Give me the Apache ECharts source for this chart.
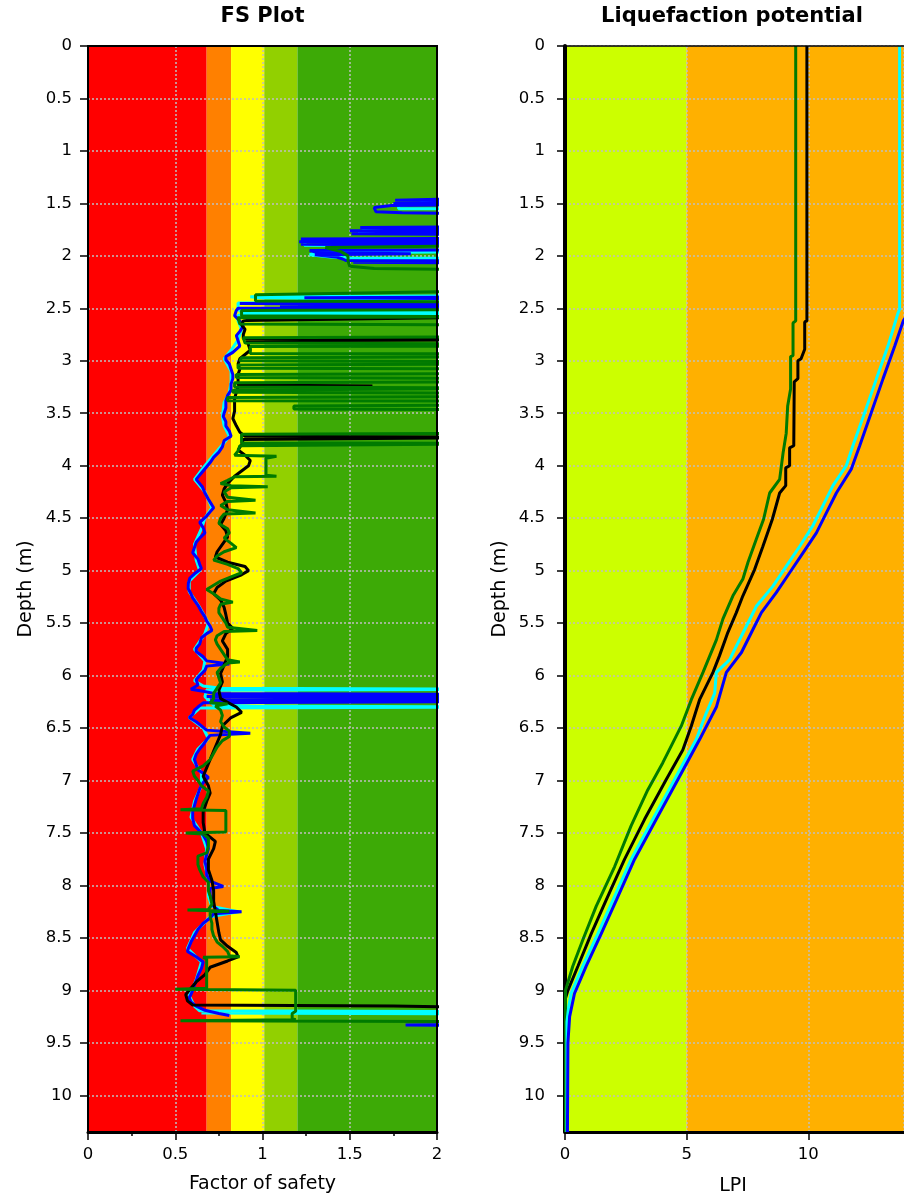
<!DOCTYPE html>
<html><head><meta charset="utf-8">
<script src="https://cdn.jsdelivr.net/npm/echarts/dist/echarts.min.js"></script>
<style>html,body{margin:0;padding:0;background:#fff}#c{width:904px;height:1199px}</style>
</head><body><div id="c"></div>
<script>
// ---------------- DATA ----------------
const depthMax = 10.35;
const lpiMax = 13.93;
const fsBandEdges = [0, 0.68, 0.82, 1.01, 1.2, 2];
const lpiBandEdges = [0, 5, 13.93];
const fsTitle = 'FS Plot';
const lpiTitle = 'Liquefaction potential';
const depthName = 'Depth (m)';
const fsName = 'Factor of safety';
const lpiName = 'LPI';

// [depth, factor of safety]; 2.5 = off scale (beyond 2), null = no value
const fsBlue = [
[1.44,2.5],[1.47,1.76],[1.48,2.5],[1.50,1.75],[1.51,2.5],[1.52,1.74],[1.54,1.64],[1.58,1.65],[1.59,1.80],[1.60,2.5],
[1.72,2.5],[1.73,1.56],[1.745,2.5],[1.76,1.50],[1.775,2.5],[1.79,1.51],[1.80,2.5],
[1.83,2.5],[1.84,1.22],[1.855,2.5],[1.865,1.21],[1.88,2.5],[1.89,1.22],[1.905,2.5],
[1.94,2.5],[1.95,1.27],[1.97,1.32],[1.98,1.85],[1.99,1.30],[2.01,1.42],[2.03,1.46],[2.045,1.48],[2.05,2.5],[2.06,1.52],[2.07,2.5],
[2.39,2.5],[2.40,1.24],[2.41,2.5],[2.45,2.5],[2.455,0.87],[2.47,2.5],[2.48,1.10],[2.49,2.5],[2.50,0.86],
[2.52,0.85],[2.57,0.84],[2.62,0.87],[2.67,0.89],[2.72,0.87],[2.76,0.85],[2.81,0.86],[2.86,0.87],[2.92,0.83],[2.96,0.79],[2.99,0.79],[3.03,0.81],[3.08,0.82],[3.13,0.83],[3.17,0.83],[3.22,0.82],[3.28,0.82],[3.33,0.80],[3.38,0.79],[3.45,0.79],[3.50,0.78],[3.53,0.775],[3.58,0.79],[3.62,0.79],[3.67,0.81],[3.72,0.82],[3.76,0.78],[3.82,0.77],[3.87,0.75],[3.92,0.72],[3.97,0.70],[4.01,0.68],[4.07,0.65],[4.13,0.62],
[4.20,0.655],[4.26,0.67],[4.32,0.69],[4.40,0.72],[4.44,0.70],[4.48,0.68],[4.54,0.64],[4.59,0.66],[4.64,0.67],[4.69,0.64],[4.73,0.62],[4.78,0.61],[4.83,0.60],[4.89,0.63],[4.94,0.64],[4.98,0.65],[5.03,0.61],[5.07,0.584],[5.12,0.575],[5.17,0.574],[5.22,0.59],[5.26,0.60],[5.33,0.63],[5.39,0.65],[5.44,0.67],[5.48,0.68],[5.53,0.70],[5.57,0.71],[5.60,0.68],[5.64,0.65],[5.70,0.64],[5.74,0.62],[5.77,0.62],[5.82,0.66],[5.86,0.68],[5.89,0.81],[5.91,0.68],[5.95,0.67],[6.00,0.64],[6.04,0.62],[6.09,0.63],[6.13,0.59],[6.15,0.66],[6.17,0.72],[6.18,2.5],[6.20,0.68],[6.21,2.5],[6.23,0.70],[6.245,2.5],[6.26,0.66],[6.30,0.63],[6.33,0.61],[6.37,0.60],[6.40,0.58],[6.44,0.62],[6.48,0.65],[6.52,0.68],[6.55,0.93],[6.57,0.70],[6.61,0.68],[6.66,0.66],[6.70,0.64],[6.75,0.62],[6.80,0.61],[6.85,0.62],[6.90,0.63],[6.93,0.66],[6.97,0.69],
[7.02,0.66],[7.08,0.64],[7.13,0.63],[7.18,0.62],[7.24,0.61],[7.30,0.60],[7.36,0.60],[7.43,0.61],[7.48,0.64],[7.52,0.66],[7.58,0.68],[7.65,0.69],[7.71,0.68],[7.77,0.67],[7.84,0.68],[7.90,0.68],[7.96,0.70],[8.01,0.775],[8.03,0.70],[8.09,0.70],[8.14,0.71],[8.20,0.72],[8.24,0.75],[8.25,0.88],[8.27,0.72],[8.31,0.70],[8.36,0.66],[8.42,0.63],[8.48,0.61],[8.54,0.59],[8.60,0.575],[8.63,0.57],[8.68,0.62],[8.73,0.66],[8.79,0.65],[8.86,0.63],[8.91,0.62],[8.95,0.61],[9.00,0.60],[9.04,0.59],[9.07,0.58],[9.11,0.59],[9.15,0.62],[9.19,0.67],[9.22,0.75],[9.24,0.81],
null,[9.32,2.5],[9.33,1.82],[9.34,2.5]
];

const fsCyan = [
[1.45,2.5],[1.47,1.95],[1.50,1.90],[1.52,1.78],[1.55,1.78],[1.555,2.5],
[1.73,2.5],[1.74,1.60],[1.78,1.55],[1.79,2.5],
[1.84,2.5],[1.85,1.25],[1.90,1.24],[1.905,2.5],
[1.96,2.5],[1.97,1.30],[1.99,1.27],[2.01,1.39],[2.02,1.50],[2.025,2.5],[2.03,1.55],[2.035,2.5],
[2.38,2.5],[2.39,0.93],[2.40,0.98],[2.405,1.24],[2.41,2.5],
[2.44,2.5],[2.45,0.86],[2.50,0.86],[2.525,0.87],[2.535,2.5],[2.545,0.87],[2.555,2.5],[2.565,0.86],
[2.62,0.86],[2.70,0.88],[2.80,0.86],[2.90,0.82],[2.98,0.78],[3.10,0.82],[3.20,0.82],[3.30,0.81],[3.40,0.78],[3.53,0.77],[3.62,0.78],[3.72,0.81],[3.80,0.77],[3.90,0.72],[4.00,0.67],[4.13,0.61],[4.25,0.67],[4.40,0.71],[4.50,0.67],[4.60,0.65],[4.75,0.61],[4.90,0.62],[5.00,0.64],[5.10,0.58],[5.20,0.58],[5.35,0.64],[5.50,0.69],[5.60,0.67],[5.75,0.61],[5.86,0.67],[5.95,0.66],[6.05,0.61],[6.10,0.66],[6.12,0.76],[6.13,2.5],[6.14,0.68],[6.20,0.67],[6.28,0.72],[6.29,0.93],[6.30,2.5],[6.31,0.64],[6.40,0.58],[6.50,0.66],[6.60,0.69],[6.70,0.63],[6.80,0.60],[6.93,0.65],[7.05,0.65],[7.20,0.61],[7.35,0.59],[7.50,0.65],[7.65,0.68],[7.80,0.67],[7.95,0.69],[8.10,0.69],[8.20,0.71],[8.25,0.86],[8.30,0.70],[8.45,0.61],[8.60,0.57],[8.73,0.65],[8.90,0.62],[9.05,0.58],[9.15,0.61],[9.195,0.64],[9.205,2.5],[9.215,0.65],[9.225,2.5]
];

const fsBlack = [
[2.58,2.5],[2.615,0.91],[2.62,0.89],[2.66,0.88],[2.70,0.90],[2.75,0.89],[2.79,0.89],[2.80,2.5],[2.81,0.91],[2.85,0.92],[2.90,0.93],[2.94,0.90],[2.98,0.87],[3.03,0.86],[3.08,0.87],[3.13,0.86],[3.18,0.86],[3.23,0.86],[3.24,1.63],[3.25,0.86],[3.30,0.85],[3.36,0.84],[3.42,0.84],[3.48,0.84],[3.55,0.83],[3.62,0.85],[3.68,0.87],[3.72,0.90],[3.73,2.5],[3.75,0.89],[3.80,0.88],[3.85,0.86],[3.90,0.90],[3.95,0.93],[4.00,0.92],[4.05,0.88],[4.10,0.84],[4.17,0.80],[4.22,0.78],[4.28,0.77],[4.35,0.79],[4.42,0.80],[4.50,0.78],[4.56,0.76],[4.62,0.79],[4.68,0.80],[4.75,0.77],[4.82,0.74],[4.87,0.73],[4.92,0.80],[4.96,0.90],[5.00,0.92],[5.04,0.88],[5.10,0.79],[5.16,0.74],[5.22,0.72],[5.28,0.76],[5.35,0.78],[5.42,0.79],[5.50,0.80],[5.55,0.83],[5.60,0.79],[5.67,0.77],[5.75,0.80],[5.82,0.80],[5.90,0.78],[5.98,0.76],[6.06,0.77],[6.14,0.75],[6.22,0.76],[6.30,0.85],[6.35,0.88],[6.40,0.82],[6.48,0.77],[6.56,0.76],[6.64,0.74],[6.72,0.72],[6.80,0.70],[6.88,0.68],[6.96,0.66],[7.05,0.69],[7.12,0.70],[7.20,0.68],[7.30,0.66],[7.40,0.66],[7.50,0.67],[7.58,0.73],[7.65,0.72],[7.75,0.69],[7.85,0.69],[7.95,0.71],[8.05,0.72],[8.15,0.72],[8.25,0.73],[8.35,0.74],[8.45,0.75],[8.52,0.76],[8.58,0.80],[8.64,0.85],[8.68,0.86],[8.72,0.80],[8.78,0.70],[8.85,0.67],[8.92,0.62],[8.98,0.59],[9.04,0.56],[9.10,0.57],[9.14,0.60],[9.15,1.75],[9.16,1.75],[9.17,2.5]
];

const fsGreen = [
[1.90,2.5],[1.92,1.36],[1.96,1.45],[2.00,1.49],[2.05,1.49],[2.10,1.50],[2.12,1.64],[2.14,2.5],
[2.33,2.5],[2.37,0.96],[2.43,0.96],[2.44,2.5],
[2.51,2.5],[2.52,0.88],[2.57,0.88],[2.58,2.5],
[2.585,2.5],[2.59,0.86],[2.65,0.87],[2.66,2.5],
[2.77,2.5],[2.78,0.89],[2.83,0.90],[2.84,2.5],
[2.86,2.5],[2.865,0.93],[2.93,0.93],[2.935,2.5],
[2.96,2.5],[2.97,0.88],[3.00,0.87],[3.01,2.5],
[3.03,2.5],[3.04,0.86],[3.07,0.86],[3.08,2.5],
[3.12,2.5],[3.13,0.85],[3.16,0.85],[3.17,2.5],
[3.20,2.5],[3.21,0.84],[3.25,0.84],[3.26,2.5],
[3.27,2.5],[3.28,0.83],[3.30,0.83],[3.31,2.5],
[3.34,2.5],[3.35,0.80],[3.38,0.80],[3.385,2.5],
[3.42,2.5],[3.43,1.18],[3.46,1.18],[3.465,2.5],
[3.69,2.5],[3.70,0.88],[3.78,0.88],[3.79,2.5],
[3.80,2.5],[3.81,0.87],[3.86,0.86],[3.90,0.84],[3.91,1.08],[3.93,1.02],[4.09,1.02],[4.10,1.08],[4.105,0.84],
[4.14,0.80],[4.17,0.76],[4.19,0.82],[4.20,1.03],[4.21,0.82],[4.25,0.78],[4.30,0.80],[4.33,0.96],[4.34,0.80],[4.38,0.76],[4.42,0.80],[4.45,0.96],[4.46,0.78],[4.50,0.76],[4.55,0.75],[4.60,0.80],[4.64,0.81],[4.69,0.78],[4.74,0.82],[4.78,0.85],[4.82,0.78],[4.86,0.74],[4.90,0.72],[4.94,0.80],[4.98,0.86],[5.02,0.88],[5.06,0.82],[5.10,0.76],[5.14,0.72],[5.18,0.68],[5.22,0.72],[5.27,0.76],[5.30,0.83],[5.32,0.76],[5.36,0.75],[5.40,0.75],[5.45,0.77],[5.50,0.79],[5.54,0.80],[5.57,0.97],[5.58,0.78],[5.62,0.74],[5.66,0.73],[5.70,0.74],[5.75,0.76],[5.80,0.78],[5.85,0.80],[5.87,0.87],[5.88,0.80],[5.93,0.76],[5.97,0.74],[6.02,0.75],[6.07,0.76],[6.12,0.74],[6.17,0.72],[6.22,0.72],[6.26,0.70],[6.27,0.80],[6.29,0.73],[6.33,0.76],[6.38,0.77],[6.44,0.76],[6.49,0.78],[6.53,0.81],[6.58,0.81],[6.62,0.77],[6.68,0.74],[6.74,0.72],[6.80,0.70],[6.86,0.66],[6.91,0.60],[6.96,0.61],
[7.00,0.63],[7.05,0.65],[7.10,0.69],[7.16,0.68],[7.22,0.66],[7.27,0.65],[7.28,0.53],[7.285,0.79],[7.49,0.79],[7.50,0.56],[7.51,0.66],[7.55,0.69],[7.62,0.69],[7.69,0.68],[7.72,0.63],[7.80,0.63],[7.85,0.64],[7.92,0.66],[7.97,0.69],[8.05,0.69],[8.10,0.70],[8.18,0.71],[8.23,0.69],[8.235,0.57],[8.245,0.81],[8.25,0.70],[8.30,0.70],[8.36,0.71],[8.42,0.71],[8.48,0.72],[8.54,0.74],[8.58,0.77],[8.63,0.80],[8.67,0.81],[8.68,0.87],[8.685,0.66],[8.70,0.68],[8.78,0.68],[8.86,0.68],[8.94,0.68],[8.98,0.68],[8.99,0.50],[9.00,1.19],[9.20,1.19],[9.22,1.17],[9.27,1.17],[9.28,1.19],[9.29,0.53],[9.30,2.5]
];

// [depth, LPI]
const lpiBlue = [
[0,14.1],[2.55,14.1],[2.62,13.9],[2.86,13.55],[3.17,13.07],[3.49,12.59],[3.81,12.11],[4.03,11.77],[4.26,11.15],[4.45,10.74],[4.64,10.33],[4.83,9.78],[5.02,9.23],[5.21,8.68],[5.40,8.07],[5.59,7.66],[5.78,7.25],[5.97,6.63],[6.30,6.22],[6.61,5.53],[6.99,4.64],[7.37,3.75],[7.75,2.86],[8.14,2.11],[8.46,1.49],[8.77,0.87],[9.03,0.39],[9.25,0.19],[9.50,0.12],[10.35,0.10]
];
const lpiCyan = [
[0,13.75],[2.51,13.75],[2.54,13.69],[2.86,13.27],[3.17,12.80],[3.49,12.32],[3.81,11.83],[4.00,11.56],[4.19,11.01],[4.38,10.60],[4.57,10.19],[4.77,9.64],[4.96,9.09],[5.15,8.54],[5.34,7.86],[5.53,7.45],[5.72,7.04],[5.85,6.76],[5.97,6.22],[6.17,6.15],[6.36,5.80],[6.61,5.39],[6.99,4.50],[7.37,3.61],[7.75,2.72],[8.14,1.97],[8.46,1.35],[8.77,0.73],[9.03,0.25],[9.16,0.15],[9.30,0.08],[10.35,0.08]
];
const lpiBlack = [
[0,9.94],[2.62,9.94],[2.63,9.85],[2.89,9.85],[2.98,9.70],[3.00,9.57],[3.17,9.57],[3.20,9.42],[3.81,9.40],[3.83,9.23],[4.00,9.23],[4.02,9.07],[4.19,9.07],[4.26,8.82],[4.51,8.52],[4.77,8.13],[4.99,7.79],[5.24,7.31],[5.40,7.04],[5.59,6.69],[5.81,6.35],[5.97,6.08],[6.23,5.53],[6.48,5.19],[6.71,4.84],[6.99,4.16],[7.37,3.27],[7.75,2.45],[8.14,1.69],[8.46,1.08],[8.77,0.53],[9.00,0.12],[9.09,0.00],[10.35,0.00]
];
const lpiGreen = [
[0,9.48],[2.62,9.48],[2.64,9.37],[2.95,9.37],[2.96,9.27],[3.27,9.27],[3.43,9.15],[3.69,9.09],[3.88,8.96],[4.13,8.82],[4.26,8.41],[4.51,8.16],[4.70,7.86],[4.92,7.52],[5.08,7.31],[5.24,6.90],[5.46,6.49],[5.66,6.22],[5.97,5.67],[6.23,5.19],[6.48,4.78],[6.83,4.02],[7.09,3.40],[7.43,2.72],[7.82,2.04],[8.20,1.28],[8.52,0.73],[8.77,0.32],[9.00,0.02],[10.35,0.02]
];

// ---------------- STYLE ----------------
const FONT = 'DejaVu Sans';
const fsBandColors = ['#FF0000', '#FF8000', '#FFFF00', '#92D000', '#3DAA06'];
const lpiBandColors = ['#CCFF00', '#FFB000'];
const C_BLUE = '#0000FF', C_CYAN = '#00FFFF', C_BLACK = '#000000', C_GREEN = '#007A00';
const GRID_L = {left: 88, top: 46, width: 349, height: 1086};
const GRID_R = {left: 565, top: 46, width: 339, height: 1086};

function toXY(arr) { return arr.map(p => p === null ? ['-', '-'] : [p[1], p[0]]); }
function bandData(edges) {
  const out = [];
  for (let i = 0; i < edges.length - 1; i++) out.push([edges[i], edges[i + 1], 0, depthMax]);
  return out;
}
function bandSeries(idx, edges, colors) {
  return {
    type: 'custom', xAxisIndex: idx, yAxisIndex: idx, z: 0, silent: true,
    encode: {x: [0, 1], y: [2, 3]},
    data: bandData(edges),
    renderItem: function (params, api) {
      const p0 = api.coord([api.value(0), api.value(2)]);
      const p1 = api.coord([api.value(1), api.value(3)]);
      return {type: 'rect', shape: {x: Math.min(p0[0], p1[0]), y: Math.min(p0[1], p1[1]),
        width: Math.abs(p1[0] - p0[0]), height: Math.abs(p1[1] - p0[1])},
        style: {fill: colors[params.dataIndex]}};
    }
  };
}
function lineSeries(idx, data, color, z) {
  return {type: 'line', xAxisIndex: idx, yAxisIndex: idx, data: toXY(data), z: z,
    showSymbol: false, symbol: 'none', connectNulls: false, clip: true, silent: true,
    lineStyle: {color: color, width: 3}, animation: false};
}
const splitDotted = {show: true, lineStyle: {color: '#BEBEBE', type: [2, 2], width: 1.5}};
const labelStyle = {color: '#000', fontFamily: FONT, fontSize: 16.5};
const nameStyle = {color: '#000', fontFamily: FONT, fontSize: 19};

function yAxisCfg(idx, axisW, labelMargin, nameGap) {
  return {gridIndex: idx, type: 'value', inverse: true, min: 0, max: depthMax, interval: 0.5, z: 1,
    axisLine: {show: true, onZero: false, lineStyle: {color: '#000', width: axisW}},
    axisTick: {show: true, length: 8, lineStyle: {color: '#000', width: 1.5}},
    axisLabel: Object.assign({margin: labelMargin, showMaxLabel: false}, labelStyle),
    splitLine: splitDotted,
    name: depthName, nameLocation: 'middle', nameRotate: 90, nameGap: nameGap, nameTextStyle: nameStyle};
}

const option = {
  animation: false,
  backgroundColor: '#fff',
  grid: [
    Object.assign({show: true, borderColor: '#000', borderWidth: 2, z: 6}, GRID_L),
    Object.assign({show: false}, GRID_R)
  ],
  xAxis: [
    {gridIndex: 0, type: 'value', min: 0, max: 2, interval: 0.5, position: 'bottom', z: 1,
      axisLine: {show: true, onZero: false, lineStyle: {color: '#000', width: 3}},
      axisTick: {show: true, length: 8, lineStyle: {color: '#000', width: 1.5}},
      minorTick: {show: true, splitNumber: 2, length: 4, lineStyle: {color: '#000', width: 1.5}},
      axisLabel: Object.assign({margin: 14}, labelStyle),
      splitLine: splitDotted,
      name: fsName, nameLocation: 'middle', nameGap: 43, nameTextStyle: nameStyle},
    {gridIndex: 1, type: 'value', min: 0, max: lpiMax, interval: 5, position: 'bottom', z: 1,
      axisLine: {show: true, onZero: false, lineStyle: {color: '#000', width: 3}},
      axisTick: {show: true, length: 8, lineStyle: {color: '#000', width: 1.5}},
      axisLabel: Object.assign({margin: 14, showMaxLabel: false}, labelStyle),
      splitLine: splitDotted},
    {gridIndex: 1, type: 'value', min: 0, max: lpiMax, interval: 5, position: 'top', z: 6,
      axisLine: {show: true, onZero: false, lineStyle: {color: '#000', width: 1.5}},
      axisTick: {show: false}, axisLabel: {show: false}, splitLine: {show: false}}
  ],
  yAxis: [yAxisCfg(0, 2, 16, 52), yAxisCfg(1, 4, 20, 55)],
  graphic: [
    {type: 'text', z: 10, style: {text: fsTitle, x: 262.5, y: 17, fill: '#000', font: 'bold 21px ' + FONT, align: 'center', verticalAlign: 'middle'}},
    {type: 'text', z: 10, style: {text: lpiTitle, x: 732, y: 17, fill: '#000', font: 'bold 21px ' + FONT, align: 'center', verticalAlign: 'middle'}},
    {type: 'text', z: 10, style: {text: lpiName, x: 733, y: 1186, fill: '#000', font: '19px ' + FONT, align: 'center', verticalAlign: 'middle'}}
  ],
  series: [
    bandSeries(0, fsBandEdges, fsBandColors),
    bandSeries(1, lpiBandEdges, lpiBandColors),
    lineSeries(0, fsCyan, C_CYAN, 2),
    lineSeries(0, fsBlue, C_BLUE, 3),
    lineSeries(0, fsBlack, C_BLACK, 4),
    lineSeries(0, fsGreen, C_GREEN, 5),
    lineSeries(1, lpiBlack, C_BLACK, 2),
    lineSeries(1, lpiGreen, C_GREEN, 3),
    lineSeries(1, lpiCyan, C_CYAN, 4),
    lineSeries(1, lpiBlue, C_BLUE, 5)
  ]
};
const chart = echarts.init(document.getElementById('c'), null, {renderer: 'canvas'});
chart.setOption(option);
</script>
</body></html>
